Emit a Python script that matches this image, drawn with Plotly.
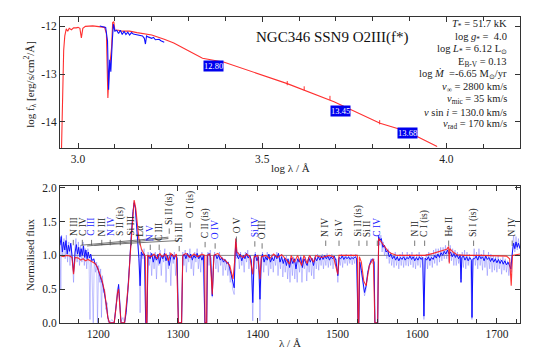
import plotly.graph_objects as go

# ---------------- top panel: SED ----------------
sed_model_logwl = [2.955, 2.958, 2.961, 2.964, 2.968, 2.972, 2.976, 2.982, 2.988, 2.995, 3.0, 3.005,
                   3.009, 3.013, 3.02, 3.04, 3.06, 3.072, 3.077, 3.081, 3.084, 3.088, 3.091, 3.094,
                   3.097, 3.1, 3.11, 3.12, 3.14, 3.16, 3.18, 3.2, 3.234, 3.26, 3.297, 3.338, 3.397,
                   3.478, 3.568, 3.695, 3.82, 3.892, 3.975]
sed_model_logf = [-14.6, -13.5, -12.5, -12.2, -12.05, -12.1, -12.04, -12.07, -12.03, -12.03, -12.02, -12.04,
                  -12.24, -12.04, -12.0, -11.99, -12.0, -12.02, -12.15, -13.5, -13.0, -12.6, -12.45, -11.92,
                  -11.9, -12.08, -12.08, -12.1, -12.1, -12.13, -12.16, -12.18, -12.27, -12.35, -12.5, -12.67, -12.75,
                  -12.97, -13.2, -13.58, -14.03, -14.2, -14.52]

sed_obs_logwl = [3.059, 3.068, 3.075, 3.08, 3.083, 3.086, 3.089, 3.093, 3.096, 3.1, 3.105, 3.11, 3.115,
                 3.12, 3.125, 3.13, 3.135, 3.14, 3.145, 3.15, 3.16, 3.17, 3.175, 3.18, 3.183, 3.186,
                 3.19, 3.2, 3.205, 3.21, 3.22, 3.225, 3.23, 3.234]
sed_obs_logf = [-11.99, -12.0, -12.02, -12.3, -13.33, -12.7, -12.95, -12.3, -11.95, -12.1, -12.08, -12.15, -12.08,
                -12.17, -12.1, -12.17, -12.12, -12.18, -12.13, -12.16, -12.17, -12.18, -12.2, -12.25, -12.37, -12.2,
                -12.22, -12.25, -12.23, -12.28, -12.27, -12.3, -12.32, -12.33]

phot_logwl = [3.568, 3.614, 3.684, 3.819]
phot_logf = [-13.19, -13.3, -13.5, -14.01]

mag_logwl = [3.368, 3.712, 3.895]
mag_logf = [-12.82, -13.78, -14.24]
mag_text = ["12.80", "13.45", "13.68"]

star_title = "NGC346 SSN9 O2III(f*)"
param_lines = [
    "<i>T</i><sub>*</sub> = 51.7 kK",
    "log <i>g</i><sub>*</sub> =  4.0",
    "log <i>L</i><sub>*</sub> = 6.12 L<sub>⊙</sub>",
    "E<sub>B-V</sub> = 0.13",
    "log <i>Ṁ</i>  =-6.65 M<sub>⊙</sub>/yr",
    "<i>v</i><sub>∞</sub> = 2800 km/s",
    "<i>v</i><sub>mic</sub> = 35 km/s",
    "<i>v</i> sin <i>i</i> = 130.0 km/s",
    "<i>v</i><sub>rad</sub> = 170 km/s",
]

# ---------------- bottom panel: normalised UV spectrum ----------------
model_wl = [1152, 1156, 1160, 1164, 1167, 1169, 1171, 1175, 1178, 1181, 1184, 1187, 1190, 1193, 1196, 1199,
            1202, 1205, 1208, 1210, 1212, 1214, 1220, 1222, 1224, 1225.5, 1227, 1228.5, 1233, 1235.5, 1238,
            1240, 1242.5, 1245, 1247, 1249, 1251, 1254, 1257, 1259, 1260, 1261, 1262, 1266, 1270, 1274,
            1277, 1280, 1285, 1288, 1291, 1295, 1298, 1300.5, 1304.5, 1306, 1310, 1315, 1320, 1325, 1330,
            1333.5, 1334, 1336, 1336.5, 1340, 1343, 1345, 1350, 1355, 1360, 1365, 1369, 1371, 1372.5, 1374,
            1378, 1382, 1386, 1390, 1393.8, 1395.5, 1400, 1402.8, 1404.5, 1410, 1415, 1420, 1425, 1430, 1435,
            1440, 1442, 1446, 1450, 1455, 1458, 1462, 1465, 1470, 1473, 1480, 1490, 1495, 1500.5, 1502, 1510,
            1520, 1525, 1525.8, 1526.8, 1527.5, 1530, 1533, 1536, 1540, 1545, 1547, 1550.5, 1551.7, 1555,
            1559, 1563, 1567, 1575, 1590, 1600, 1610, 1620, 1630, 1637, 1639.5, 1640.3, 1641, 1645, 1650,
            1660, 1680, 1700, 1712, 1716, 1718, 1719.5, 1729]
model_f = [1.0, 0.98, 1.0, 0.99, 0.97, 0.72, 0.97, 0.96, 0.93, 0.95, 0.92, 0.94, 0.92, 0.9, 0.88, 0.82,
           0.73, 0.62, 0.46, 0.3, 0.08, 0.0, 0.0, 0.2, 0.44, 0.5, 0.3, 0.0, 0.0, 0.27, 0.6,
           1.0, 1.5, 1.82, 1.7, 1.45, 1.24, 1.1, 1.02, 0.98, 0.0, 0.0, 1.0, 0.98, 1.02, 0.95,
           1.03, 0.98, 1.02, 0.92, 1.03, 0.98, 1.02, 0.0, 0.0, 1.0, 1.03, 0.97, 1.02, 0.98, 1.02,
           1.0, 0.0, 0.0, 1.0, 1.02, 0.42, 1.0, 1.03, 0.96, 0.92, 0.85, 0.65, 0.9, 1.25, 1.05,
           1.0, 0.97, 1.02, 0.98, 0.72, 0.98, 1.0, 0.65, 0.98, 1.0, 0.95, 1.02, 0.97, 1.01, 0.95,
           0.87, 1.0, 0.9, 1.0, 0.85, 1.0, 0.88, 1.0, 0.9, 1.0, 0.97, 1.0, 0.98, 0.72, 1.0, 1.0,
           1.0, 1.0, 0.0, 0.0, 0.98, 0.9, 0.62, 0.55, 0.85, 0.95, 0.0, 0.0, 1.25, 1.2,
           1.13, 1.07, 1.03, 1.0, 1.0, 1.0, 1.0, 1.03, 1.06, 1.09, 1.13, 0.88, 1.1, 1.05, 1.01,
           1.0, 1.0, 1.0, 0.99, 0.95, 0.55, 1.0, 1.02]

obs_wl = [1152, 1153.5, 1155, 1156.5, 1158, 1159.5, 1161, 1162.5, 1164, 1165.5, 1167, 1169, 1171, 1172.5,
          1174, 1175.5, 1177, 1178.5, 1180, 1181.5, 1183, 1184.5, 1186, 1187.5, 1189, 1190.5, 1192, 1194,
          1196, 1198, 1200, 1202, 1204, 1206, 1208, 1210, 1212, 1214, 1220, 1222, 1224, 1225.5, 1227,
          1228.5, 1233, 1235, 1237, 1239.5, 1241.5, 1243.5, 1245, 1246.5, 1248, 1249.5, 1251, 1252.5, 1254,
          1256, 1258, 1259.5, 1261, 1262.5, 1265, 1267, 1269, 1271, 1273, 1275, 1277, 1279, 1281, 1283,
          1285, 1287, 1289, 1291, 1293, 1295, 1297, 1299, 1300.5, 1304.5, 1306, 1308, 1310, 1312, 1314,
          1316, 1318, 1320, 1322, 1324, 1326, 1328, 1330, 1332, 1333.7, 1336, 1337, 1339, 1341, 1343,
          1345, 1347, 1349, 1351, 1353, 1355, 1357, 1359, 1361, 1363, 1365, 1367, 1369, 1370.5, 1371.5,
          1372.5, 1374, 1376, 1378, 1380, 1382, 1384, 1386, 1388, 1390, 1392, 1393.8, 1395.5, 1397, 1399,
          1401, 1402.8, 1404.5, 1406, 1408, 1410, 1412, 1414, 1416, 1418, 1420, 1422, 1424, 1426, 1428,
          1430, 1432, 1434, 1436, 1438, 1440, 1442, 1444, 1446, 1448, 1450, 1452, 1454, 1456, 1458, 1460,
          1462, 1464, 1466, 1468, 1470, 1472, 1474, 1476, 1478, 1480, 1482, 1484, 1486, 1488, 1490, 1492,
          1494, 1496, 1498, 1500.5, 1502, 1504, 1506, 1508, 1510, 1512, 1514, 1516, 1518, 1520, 1522, 1524,
          1525.8, 1526.8, 1528, 1530, 1532, 1534, 1536, 1538, 1540, 1542, 1544, 1546, 1547, 1550.5, 1551.7,
          1553, 1555, 1557, 1559, 1561, 1563, 1565, 1567, 1569, 1571, 1573, 1575, 1577, 1579, 1581, 1583,
          1585, 1587, 1589, 1591, 1593, 1595, 1597, 1599, 1601, 1603, 1605, 1607, 1608.5, 1610, 1612, 1614,
          1616, 1618, 1620, 1622, 1624, 1626, 1628, 1630, 1632, 1634, 1636, 1638, 1640, 1642, 1644, 1646,
          1648, 1650, 1652, 1654, 1655, 1656, 1658, 1660, 1662, 1664, 1666, 1668, 1668.8, 1670, 1672, 1674,
          1676, 1678, 1680, 1682, 1684, 1686, 1688, 1690, 1692, 1694, 1696, 1698, 1700, 1702, 1704, 1706,
          1708, 1710, 1712, 1714, 1716, 1717.5, 1719.5, 1721, 1722.5, 1724, 1725.5, 1727, 1729]
obs_f = [1.15, 1.28, 1.05, 1.2, 1.08, 1.22, 1.02, 1.15, 1.06, 1.18, 1.0, 0.75, 1.05, 1.16,
         1.02, 1.12, 0.98, 1.1, 1.0, 1.14, 0.97, 1.08, 0.95, 1.05, 0.96, 1.02, 0.92, 0.95,
         0.88, 0.85, 0.78, 0.72, 0.63, 0.55, 0.44, 0.28, 0.08, 0.0, 0.0, 0.22, 0.5, 0.57, 0.3,
         0.0, 0.0, 0.15, 0.45, 0.85, 1.3, 1.65, 1.78, 1.7, 1.5, 1.2, 0.95, 0.55, 1.05,
         1.0, 1.02, 0.0, 0.0, 1.0, 0.95, 1.03, 0.9, 1.0, 0.93, 1.02, 0.88, 1.0, 0.95, 1.03,
         0.92, 1.0, 0.85, 0.98, 1.02, 0.94, 1.0, 0.96, 0.0, 0.0, 0.98, 1.02, 0.95, 1.03, 0.97,
         1.02, 0.93, 1.0, 0.96, 1.03, 0.95, 1.0, 0.93, 1.0, 0.0, 0.0, 1.0, 1.03, 0.97, 0.4,
         0.98, 1.02, 0.95, 1.0, 0.93, 0.97, 0.9, 0.94, 0.88, 0.9, 0.8, 0.7, 0.6, 0.52, 0.95,
         1.2, 1.0, 0.95, 1.02, 0.92, 1.0, 0.95, 1.03, 0.96, 1.0, 0.93, 0.3, 0.95, 1.02, 0.92,
         0.98, 0.35, 0.95, 1.02, 0.9, 0.98, 0.93, 1.02, 0.9, 0.97, 0.92, 1.0, 0.95, 1.03, 0.9,
         0.98, 0.88, 0.96, 0.85, 0.95, 0.82, 0.96, 0.88, 0.95, 0.8, 0.95, 0.9, 0.97, 0.82, 0.95, 0.9,
         0.85, 0.97, 0.9, 0.96, 0.85, 0.97, 0.92, 0.98, 0.93, 0.99, 0.94, 1.0, 0.95, 0.99, 0.93, 0.98,
         0.95, 0.99, 0.93, 0.7, 0.97, 0.95, 0.99, 0.94, 0.98, 0.95, 0.98, 0.94, 0.97, 0.95, 0.98, 0.96,
         0.0, 0.0, 0.9, 0.78, 0.6, 0.45, 0.55, 0.75, 0.85, 0.92, 0.95, 0.9, 0.0, 0.0, 1.28,
         1.22, 1.25, 1.12, 1.15, 1.05, 1.08, 0.98, 1.02, 0.95, 0.99, 0.93, 0.98, 0.92, 0.97, 0.94, 0.98,
         0.93, 0.97, 0.95, 0.99, 0.94, 0.98, 0.92, 0.97, 0.93, 0.98, 0.94, 0.97, 0.1, 0.96, 0.93, 0.98,
         0.92, 0.97, 0.94, 1.0, 0.96, 1.02, 0.97, 1.04, 1.0, 1.06, 1.02, 1.08, 1.02, 1.05, 0.98, 1.03,
         0.97, 1.01, 0.95, 1.0, 0.6, 0.97, 0.99, 0.93, 0.98, 0.92, 0.97, 0.93, 0.08, 0.95, 0.95, 0.99,
         0.93, 1.0, 0.95, 0.98, 0.92, 0.99, 0.94, 0.97, 0.91, 0.96, 0.9, 0.95, 0.89, 0.94, 0.88, 0.93,
         0.87, 0.92, 0.86, 0.9, 0.85, 0.8, 1.05, 1.18, 1.1, 1.2, 1.12, 1.18, 1.1]

raw_wl = [1152, 1153, 1154, 1155.5, 1157, 1158.5, 1160, 1161.5, 1163, 1164.5, 1166, 1167.5, 1169, 1170.5,
          1172, 1173.5, 1175, 1176.5, 1178, 1179.5, 1181, 1182.5, 1184, 1185.5, 1187, 1188.5, 1189.6, 1190.6,
          1192, 1193.7, 1195, 1196.5, 1198, 1199, 1200.5, 1202, 1203, 1204, 1205.2, 1206.5, 1208, 1209.5,
          1211, 1212.5, 1214, 1217, 1220, 1222, 1224, 1225.5, 1227, 1228.5, 1231, 1233, 1235, 1237, 1239.5,
          1241.5, 1243.5, 1245, 1246.5, 1248, 1249.5, 1251, 1252.5, 1254, 1256, 1257.5, 1259.5, 1261, 1262.5,
          1264, 1265.5, 1267, 1268.5, 1270, 1271.5, 1273, 1274.5, 1276, 1277.5, 1279, 1280.5, 1282, 1283.5,
          1285, 1286.5, 1288, 1289.5, 1291, 1292.5, 1294, 1295.5, 1297, 1298.5, 1300.5, 1304.5, 1306, 1307.5,
          1309, 1310.5, 1312, 1313.5, 1315, 1316.5, 1318, 1319.5, 1321, 1322.5, 1324, 1325.5, 1327, 1328.5,
          1330, 1331.5, 1333.7, 1336, 1337.5, 1339, 1340.5, 1342, 1343, 1344.5, 1346, 1347.5, 1349, 1350.5,
          1352, 1353.5, 1355, 1356.5, 1358, 1359.5, 1361, 1362.5, 1364, 1365.5, 1367, 1368.5, 1370.5, 1371.5,
          1372.5, 1374, 1375.5, 1377, 1378.5, 1380, 1381.5, 1383, 1384.5, 1386, 1387.5, 1389, 1390.5, 1392,
          1393.8, 1395.5, 1397, 1398.5, 1400, 1401.5, 1402.8, 1404.5, 1406, 1407.5, 1409, 1410.5, 1412, 1413.5,
          1415, 1416.5, 1418, 1419.5, 1421, 1422.5, 1424, 1425.5, 1427, 1428.5, 1430, 1431.5, 1433, 1434.5,
          1436, 1437.5, 1439, 1440.5, 1442, 1443.5, 1445, 1446.5, 1448, 1449.5, 1451, 1452.5, 1454, 1455.5,
          1457, 1458.5, 1460, 1461.5, 1463, 1464.5, 1466, 1467.5, 1469, 1470.5, 1472, 1473.5, 1475, 1476.5,
          1478, 1479.5, 1481, 1482.5, 1484, 1485.5, 1487, 1488.5, 1490, 1491.5, 1493, 1494.5, 1496, 1497.5,
          1499, 1500.5, 1502, 1503.5, 1505, 1506.5, 1508, 1509.5, 1511, 1512.5, 1514, 1515.5, 1517, 1518.5,
          1520, 1521.5, 1523, 1524.5, 1525.8, 1526.8, 1528, 1530, 1532, 1534, 1536, 1538, 1540, 1542, 1544,
          1546, 1547, 1550.5, 1551.7, 1553, 1554.5, 1556, 1557.5, 1559, 1560.5, 1562, 1563.5, 1565, 1566.5,
          1568, 1569.5, 1571, 1572.5, 1574, 1575.5, 1577, 1578.5, 1580, 1581.5, 1583, 1584.5, 1586, 1587.5,
          1589, 1590.5, 1592, 1593.5, 1595, 1596.5, 1598, 1599.5, 1601, 1602.5, 1604, 1605.5, 1607, 1608.5,
          1610, 1611.5, 1613, 1614.5, 1616, 1617.5, 1619, 1620.5, 1622, 1623.5, 1625, 1626.5, 1628, 1629.5,
          1631, 1632.5, 1634, 1635.5, 1637, 1638.5, 1640, 1641.5, 1643, 1644.5, 1646, 1647.5, 1649, 1650.5,
          1652, 1653.5, 1655, 1656.5, 1658, 1659.5, 1661, 1662.5, 1664, 1665.5, 1667, 1668.7, 1670, 1671.5,
          1673, 1674.5, 1676, 1677.5, 1679, 1680.5, 1682, 1683.5, 1685, 1686.5, 1688, 1689.5, 1691, 1692.5,
          1694, 1695.5, 1697, 1698.5, 1700, 1701.5, 1703, 1704.5, 1706, 1707.5, 1709, 1710.5, 1712, 1713.5,
          1715, 1716.5, 1718, 1719.5, 1721, 1722.5, 1724, 1725.5, 1727, 1728.5]
raw_f = [1.2, 0.5, 1.3, 1.0, 1.25, 0.95, 1.3, 0.9, 1.2, 0.85, 1.15, 0.95, 0.6, 1.1,
         1.25, 0.9, 1.2, 0.85, 1.15, 0.9, 1.2, 0.85, 1.1, 0.8, 1.1, 0.85, 0.05, 1.0,
         0.8, 0.0, 0.95, 0.75, 0.9, 0.0, 0.85, 0.6, 0.8, 0.08, 0.7, 0.45, 0.5, 0.2,
         0.3, 0.02, 0.0, 0.05, 0.0, 0.25, 0.5, 0.55, 0.25, 0.02, 0.08, 0.0, 0.2, 0.5, 0.9,
         1.35, 1.7, 1.8, 1.72, 1.5, 1.3, 1.0, 0.15, 1.1, 0.95, 1.1, 0.0, 0.0, 1.05,
         0.85, 1.05, 0.7, 1.02, 0.8, 1.05, 0.65, 1.0, 0.85, 1.08, 0.7, 1.0, 0.9, 1.1,
         0.6, 1.0, 0.8, 1.05, 0.55, 1.0, 0.88, 1.05, 0.7, 1.0, 0.0, 0.0, 1.05, 0.85,
         1.08, 0.75, 1.02, 0.9, 1.1, 0.8, 1.0, 0.7, 1.05, 0.9, 1.1, 0.8, 1.0, 0.75,
         1.05, 0.85, 0.0, 0.0, 1.05, 0.85, 1.08, 0.7, 0.38, 0.9, 1.05, 0.8, 1.0, 0.75,
         1.05, 0.85, 0.98, 0.7, 0.95, 0.78, 0.92, 0.7, 0.85, 0.6, 0.75, 0.5, 0.42, 0.9,
         1.25, 0.95, 1.05, 0.8, 1.05, 0.85, 1.0, 0.75, 1.05, 0.9, 1.08, 0.8, 1.0, 0.85,
         0.03, 0.9, 1.05, 0.8, 1.0, 0.85, 0.03, 0.9, 1.05, 0.75, 1.0, 0.85, 1.05, 0.7,
         0.98, 0.8, 1.02, 0.75, 1.0, 0.85, 1.05, 0.7, 1.0, 0.8, 1.02, 0.68, 0.95, 0.75,
         1.0, 0.65, 0.92, 0.6, 0.95, 0.7, 0.98, 0.65, 0.9, 0.6, 0.95, 0.75, 1.0, 0.6,
         0.95, 0.8, 0.98, 0.62, 0.95, 0.75, 1.0, 0.7, 0.95, 0.65, 1.0, 0.8, 1.02, 0.78,
         1.0, 0.85, 1.02, 0.8, 1.0, 0.85, 1.03, 0.82, 1.0, 0.85, 1.02, 0.8, 1.0, 0.85,
         0.95, 0.6, 0.95, 0.85, 1.02, 0.82, 1.0, 0.88, 1.02, 0.85, 1.0, 0.88, 1.02, 0.86,
         1.0, 0.88, 1.02, 0.9, 0.0, 0.0, 0.9, 0.75, 0.55, 0.4, 0.5, 0.72, 0.8, 0.95, 0.88,
         0.95, 0.0, 0.0, 1.3, 1.15, 1.3, 1.05, 1.2, 1.0, 1.1, 0.95, 1.1, 0.88, 1.05,
         0.85, 1.0, 0.82, 1.05, 0.85, 1.0, 0.8, 1.02, 0.85, 1.05, 0.82, 1.0, 0.85, 1.05,
         0.84, 1.02, 0.86, 1.05, 0.82, 1.0, 0.8, 1.02, 0.85, 1.05, 0.82, 1.0, 0.85, 0.05,
         0.9, 1.02, 0.8, 1.05, 0.85, 1.02, 0.82, 1.08, 0.88, 1.1, 0.85, 1.1, 0.9, 1.12,
         0.92, 1.12, 0.95, 1.15, 0.95, 1.12, 0.9, 1.15, 0.92, 1.1, 0.85, 1.08, 0.85, 1.05,
         0.88, 1.02, 0.65, 1.05, 0.82, 1.08, 0.8, 1.05, 0.85, 1.02, 0.8, 0.05, 0.9, 1.1,
         0.85, 1.05, 0.8, 1.1, 0.85, 1.02, 0.78, 1.08, 0.82, 1.0, 0.7, 1.05, 0.8, 1.02,
         0.75, 1.0, 0.78, 0.98, 0.75, 1.0, 0.8, 0.95, 0.72, 0.98, 0.78, 0.95, 0.75, 0.92,
         0.7, 0.9, 0.75, 1.1, 1.3, 1.05, 1.28, 1.08, 1.25, 1.1]

# line identifications
id_wl = [1168.7, 1180, 1191.6, 1204.4, 1215, 1227.6, 1241.7, 1252.3, 1265.2, 1276.4, 1289, 1301.5,
         1315.3, 1334, 1346.6, 1373.3, 1396.4, 1405.5, 1485.3, 1502, 1527, 1537, 1550, 1596.9,
         1609.4, 1639.5, 1670.8, 1719.2]
id_text = ["N III", "C IV", "C III", "N III", "N IV", "S II (is)", "Si III", "Lα", "N V", "C III",
           "Si II (is)", "Si III", "O I (is)", "C II (is)", "O IV", "O V", "Si IV", "O III", "N IV",
           "Si V", "Si II (is)", "Si II", "C IV", "N II", "C I (is)", "He II", "Si I (is)", "N IV"]
id_color = ["k", "k", "b", "k", "b", "k", "k", "k", "b", "k", "k", "k", "k", "k", "b", "k", "b", "k",
            "k", "k", "k", "k", "b", "k", "k", "k", "k", "k"]
id_base = [1.27, 1.27, 1.27, 1.27, 1.27, 1.27, 1.27, 1.27, 1.2, 1.2, 1.44, 1.18, 1.53, 1.24, 1.22,
           1.32, 1.25, 1.22, 1.26, 1.26, 1.26, 1.26, 1.26, 1.26, 1.26, 1.26, 1.26, 1.26]
leader_x0 = [1178, 1186, 1195]
leader_y0 = [1.15, 1.14, 1.15]
leader_x1 = [1288, 1288, 1300]
leader_y1 = [1.27, 1.25, 1.22]

RED = "rgba(255,20,20,0.85)"
BLUE = "#1010ff"
FONT = "Liberation Serif, Times New Roman, serif"
AX = "#333333"

fig = go.Figure()

# top panel
fig.add_trace(go.Scatter(x=sed_model_logwl, y=sed_model_logf, mode="lines",
                         line=dict(color="#ff3030", width=1.1), xaxis="x", yaxis="y"))
fig.add_trace(go.Scatter(x=sed_obs_logwl, y=sed_obs_logf, mode="lines",
                         line=dict(color=BLUE, width=1.1), xaxis="x", yaxis="y"))
fig.add_trace(go.Scatter(x=phot_logwl, y=phot_logf, mode="markers",
                         marker=dict(symbol="line-ns", size=3, line=dict(color="#ff3030", width=1)),
                         xaxis="x", yaxis="y"))

# bottom panel
fig.add_trace(go.Scatter(x=raw_wl, y=raw_f, mode="lines",
                         line=dict(color="rgba(90,90,255,0.45)", width=0.8), xaxis="x2", yaxis="y2"))
fig.add_trace(go.Scatter(x=obs_wl, y=obs_f, mode="lines",
                         line=dict(color=BLUE, width=1), xaxis="x2", yaxis="y2"))
fig.add_trace(go.Scatter(x=model_wl, y=model_f, mode="lines",
                         line=dict(color=RED, width=1.1), xaxis="x2", yaxis="y2"))

# tick marks under line labels
tx, ty = [], []
for w, b in zip(id_wl, id_base):
    tx += [w, w, None]
    ty += [b - 0.04, b - 0.12, None]
for a, b, c, d in zip(leader_x0, leader_y0, leader_x1, leader_y1):
    tx += [a, c, None]
    ty += [b, d, None]
fig.add_trace(go.Scatter(x=tx, y=ty, mode="lines", line=dict(color="#555555", width=0.8),
                         xaxis="x2", yaxis="y2"))

ann = []
for w, t, c, b in zip(id_wl, id_text, id_color, id_base):
    ann.append(dict(x=w, y=b, xref="x2", yref="y2", text=t, textangle=-90, showarrow=False,
                    xanchor="center", yanchor="bottom", borderpad=0,
                    font=dict(family=FONT, size=9.5, color="#2020ff" if c == "b" else "#222222")))

for x, y, t in zip(mag_logwl, mag_logf, mag_text):
    ann.append(dict(x=x, y=y, xref="x", yref="y", text=t, showarrow=False, bgcolor="#0000ee",
                    borderpad=0, xanchor="center", yanchor="middle",
                    font=dict(family=FONT, size=8.5, color="white")))

ann.append(dict(x=324 / 538, y=1 - 26 / 351, xref="paper", yref="paper", text=star_title,
                showarrow=False, xanchor="center", yanchor="middle",
                font=dict(family=FONT, size=15, color="#111111")))
for i, t in enumerate(param_lines):
    ann.append(dict(x=500 / 538, y=1 - (13 + 12.9 * i) / 351, xref="paper", yref="paper", text=t,
                    showarrow=False, xanchor="right", yanchor="middle", borderpad=0,
                    font=dict(family=FONT, size=10.5, color="#222222")))

# axis titles
title_common = dict(xref="paper", yref="paper", showarrow=False, xanchor="center", yanchor="middle")
ann.append(dict(x=282 / 538, y=1 - 161 / 351, text="log λ / Å",
                font=dict(family=FONT, size=11, color="#222222"), **title_common))
ann.append(dict(x=282 / 538, y=1 - 341 / 351, text="λ / Å",
                font=dict(family=FONT, size=11, color="#222222"), **title_common))
ann.append(dict(x=22 / 538, y=1 - 75 / 351, text="log f<sub>λ</sub> [erg/s/cm<sup>2</sup>/Å]",
                textangle=-90, font=dict(family=FONT, size=11, color="#222222"), **title_common))
ann.append(dict(x=22 / 538, y=1 - 250 / 351, text="Normalised flux", textangle=-90,
                font=dict(family=FONT, size=11, color="#222222"), **title_common))

axcommon = dict(showline=True, linecolor=AX, linewidth=1, mirror="ticks", ticks="inside",
                ticklen=5, tickcolor=AX, showgrid=False, zeroline=False,
                tickfont=dict(family=FONT, size=11.5, color="#222222"))

fig.update_layout(
    width=538, height=351, margin=dict(l=0, r=0, t=0, b=0),
    paper_bgcolor="white", plot_bgcolor="white", showlegend=False,
    font=dict(family=FONT),
    xaxis=dict(domain=[52 / 538, 512 / 538], anchor="y", range=[2.951, 4.2],
               tickvals=[3.0, 3.5, 4.0], ticktext=["3.0", "3.5", "4.0"],
               minor=dict(dtick=0.1, tick0=3.0, ticks="inside", ticklen=4, tickcolor=AX), **axcommon),
    yaxis=dict(domain=[1 - 140 / 351, 1 - 5 / 351], anchor="x", range=[-14.55, -11.8],
               tickvals=[-12, -13, -14], ticktext=["-12", "-13", "-14"], **axcommon),
    xaxis2=dict(domain=[52 / 538, 512 / 538], anchor="y2", range=[1152, 1729],
                tickvals=[1200, 1300, 1400, 1500, 1600, 1700],
                minor=dict(dtick=25, tick0=1200, ticks="inside", ticklen=4, tickcolor=AX), **axcommon),
    yaxis2=dict(domain=[1 - 320 / 351, 1 - 179 / 351], anchor="x2", range=[0, 2.03],
                tickvals=[0, 0.5, 1.0, 1.5, 2.0], ticktext=["0.0", "0.5", "1.0", "1.5", "2.0"],
                **axcommon),
    annotations=ann,
    shapes=[dict(type="line", xref="x2 domain", yref="y2", x0=0, x1=1, y0=1, y1=1,
                 line=dict(color="#888888", width=1), layer="below")],
)

fig.write_html("out.html")
